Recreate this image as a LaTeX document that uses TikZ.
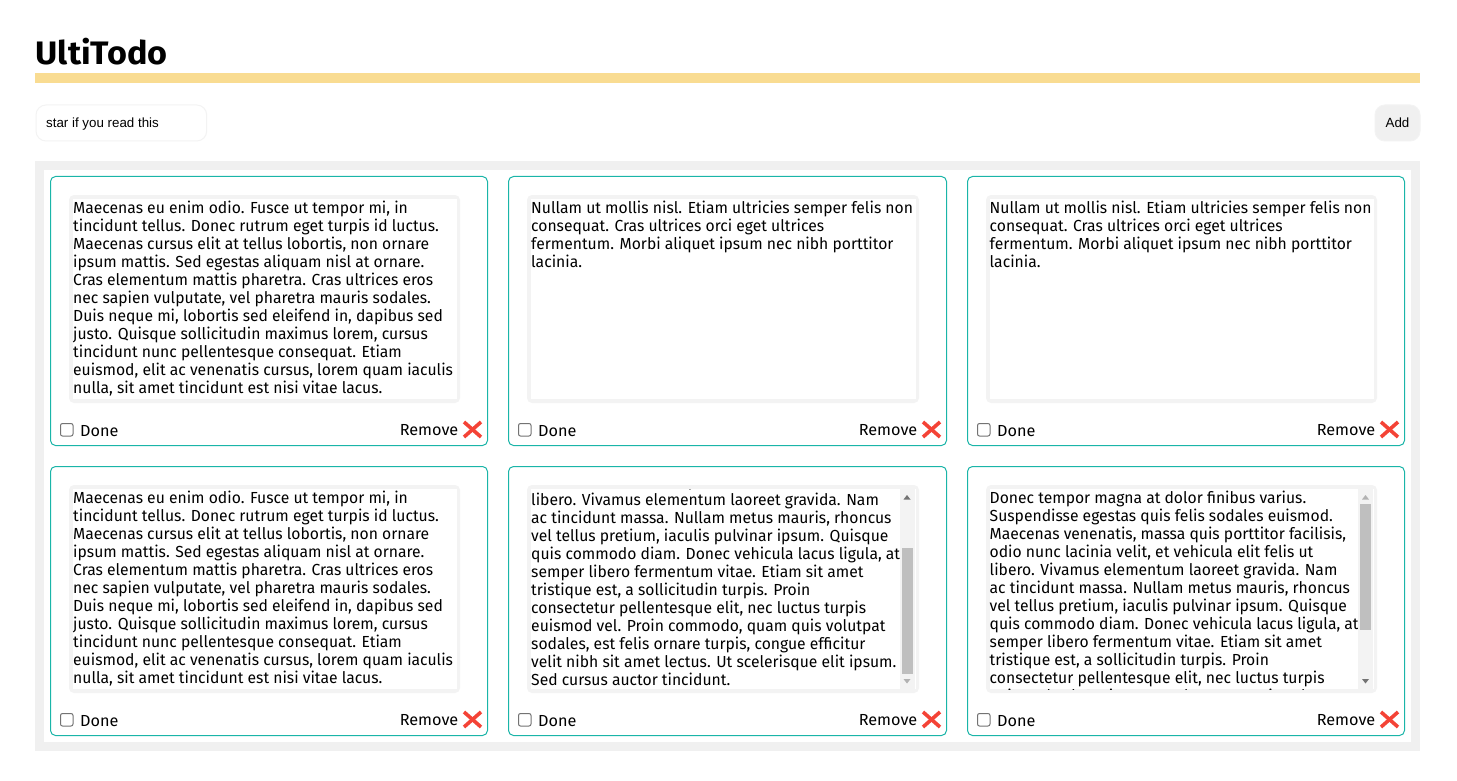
\documentclass[tikz,border=0pt]{standalone}
\usepackage{fontspec}
\setmainfont{Liberation Sans}
\newfontfamily\ub[FakeStretch=0.98]{Fira Sans}
\newfontfamily\ubl[FakeStretch=1.015]{Fira Sans}
\newfontfamily\ubt[FakeStretch=1.05,UprightFont=*-Bold]{Fira Sans}
\definecolor{teal1}{HTML}{1AB5A8}
\definecolor{gray1}{HTML}{F0F0F0}
\definecolor{gray2}{HTML}{F3F3F3}
\definecolor{thumb}{HTML}{BFBFBF}
\definecolor{yell}{HTML}{F9DC92}
\definecolor{redx}{HTML}{F44336}
\tikzset{
 cardbox/.style={draw=teal1,line width=1pt,rounded corners=5pt,fill=white},
 areabox/.style={fill=gray2,rounded corners=5pt},
 body/.style={anchor=north west,inner sep=0pt,align=left,font=\ub\fontsize{16}{18}\selectfont},
 label/.style={anchor=base west,inner sep=0pt,font=\ubl\fontsize{16}{18}\selectfont},
 ctl/.style={inner sep=0pt,font=\fontsize{13.33}{16}\selectfont},
 chk/.style={draw=black!55,line width=1pt,rounded corners=2pt,fill=white},
 xmark/.style={draw=redx,line width=3.6pt},
}
\newcommand{\fl}{\rule{0pt}{14pt}}
\newcommand{\tA}{\fl Maecenas eu enim odio. Fusce ut tempor mi, in\\tincidunt tellus. Donec rutrum eget turpis id luctus.\\Maecenas cursus elit at tellus lobortis, non ornare\\ipsum mattis. Sed egestas aliquam nisl at ornare.\\Cras elementum mattis pharetra. Cras ultrices eros\\nec sapien vulputate, vel pharetra mauris sodales.\\Duis neque mi, lobortis sed eleifend in, dapibus sed\\justo. Quisque sollicitudin maximus lorem, cursus\\tincidunt nunc pellentesque consequat. Etiam\\euismod, elit ac venenatis cursus, lorem quam iaculis\\nulla, sit amet tincidunt est nisi vitae lacus.}
\newcommand{\tB}{\fl Nullam ut mollis nisl. Etiam ultricies semper felis non\\consequat. Cras ultrices orci eget ultrices\\fermentum. Morbi aliquet ipsum nec nibh porttitor\\lacinia.}
\newcommand{\tC}{\fl odio nunc lacinia velit, et vehicula elit felis ut\\libero. Vivamus elementum laoreet gravida. Nam\\ac tincidunt massa. Nullam metus mauris, rhoncus\\vel tellus pretium, iaculis pulvinar ipsum. Quisque\\quis commodo diam. Donec vehicula lacus ligula, at\\semper libero fermentum vitae. Etiam sit amet\\tristique est, a sollicitudin turpis. Proin\\consectetur pellentesque elit, nec luctus turpis\\euismod vel. Proin commodo, quam quis volutpat\\sodales, est felis ornare turpis, congue efficitur\\velit nibh sit amet lectus. Ut scelerisque elit ipsum.\\Sed cursus auctor tincidunt.}
\newcommand{\tD}{\fl Donec tempor magna at dolor finibus varius.\\Suspendisse egestas quis felis sodales euismod.\\Maecenas venenatis, massa quis porttitor facilisis,\\odio nunc lacinia velit, et vehicula elit felis ut\\libero. Vivamus elementum laoreet gravida. Nam\\ac tincidunt massa. Nullam metus mauris, rhoncus\\vel tellus pretium, iaculis pulvinar ipsum. Quisque\\quis commodo diam. Donec vehicula lacus ligula, at\\semper libero fermentum vitae. Etiam sit amet\\tristique est, a sollicitudin turpis. Proin\\consectetur pellentesque elit, nec luctus turpis\\euismod vel. Proin commodo, quam quis volutpat}
% name, x1, x2, y1
\newcommand{\cardshell}[4]{%
 \pgfmathsetmacro{\xa}{#2+.5}\pgfmathsetmacro{\xb}{#3-.5}
 \pgfmathsetmacro{\ya}{#4+.5}\pgfmathsetmacro{\yb}{#4+269.5}
 \path[cardbox] (\xa,\ya) rectangle (\xb,\yb);
 \pgfmathsetmacro{\ta}{#2+19}\pgfmathsetmacro{\tb}{#3-28}
 \pgfmathsetmacro{\tc}{#4+19}\pgfmathsetmacro{\td}{#4+227}
 \path[areabox] (\ta,\tc) rectangle (\tb,\td);
 \pgfmathsetmacro{\ia}{#2+22.5}\pgfmathsetmacro{\ib}{#3-31.5}
 \pgfmathsetmacro{\ic}{#4+23}\pgfmathsetmacro{\id}{#4+223}
 \fill[white] (\ia,\ic) rectangle (\ib,\id);
 \pgfmathsetmacro{\ca}{#2+10.5}\pgfmathsetmacro{\cb}{#2+23}
 \pgfmathsetmacro{\cc}{#4+247.5}\pgfmathsetmacro{\cd}{#4+260}
 \path[chk] (\ca,\cc) rectangle (\cb,\cd);
 \pgfmathsetmacro{\dx}{#2+30}\pgfmathsetmacro{\dy}{#4+260}
 \node[label] (#1done) at (\dx,\dy) {Done};
 \pgfmathsetmacro{\rx}{#3-29.5}\pgfmathsetmacro{\ry}{#4+259}
 \node[label,anchor=base east] (#1rem) at (\rx,\ry) {Remove};
 \pgfmathsetmacro{\xl}{#3-24}\pgfmathsetmacro{\xr}{#3-7}
 \pgfmathsetmacro{\yt}{#4+246}\pgfmathsetmacro{\yu}{#4+261}
 \draw[xmark] (\xl,\yt) -- (\xr,\yu);
 \draw[xmark] (\xr,\yt) -- (\xl,\yu);
}
\begin{document}
\begin{tikzpicture}[x=1pt,y=-1pt]
\useasboundingbox (0,0) rectangle (1457,781);
\fill[white] (0,0) rectangle (1457,781);
\node[anchor=base west,inner sep=0pt,font=\ubt\fontsize{32.5}{36}\selectfont] (title) at (35.5,65) {UltiTodo};
\fill[yell] (35,73) rectangle (1420,83);
\node[draw=gray2,line width=1pt,rounded corners=10pt,minimum width=170.7pt,minimum height=36pt,anchor=north west,inner sep=0pt] (input) at (35.5,104.5) {};
\node[ctl,anchor=base west] (inputtext) at (46,127.3) {star if you read this};
\node[draw=gray2,fill=gray1,line width=1pt,rounded corners=10pt,minimum width=45pt,minimum height=36pt,anchor=north west,inner sep=0pt,ctl] (add) at (1374.5,104.5) {Add};
\fill[gray1] (35,161) rectangle (1420,751);
\fill[white] (44,170) rectangle (1411,742);

\cardshell{a}{50}{488}{176}
\node[body] (atext) at (73,199) {\tA};
\cardshell{b}{508}{947}{176}
\node[body] (btext) at (531,199) {\tB};
\cardshell{c}{967}{1405}{176}
\node[body] (ctext) at (989.5,199) {\tB};
\cardshell{d}{50}{488}{466}
\node[body] (dtext) at (73,489) {\tA};
\cardshell{e}{508}{947}{466}
\begin{scope}
\clip (530,489) rectangle (900,689);
\node[body] (etext) at (531,473) {\tC};
\end{scope}
\fill[gray2] (900,489) rectangle (915,689);
\fill[thumb] (902,548) rectangle (913,674);
\fill[black!55] (903.5,499.5) -- (910.5,499.5) -- (907,495) -- cycle;
\fill[black!30] (903.5,679) -- (910.5,679) -- (907,683.5) -- cycle;
\cardshell{f}{967}{1405}{466}
\begin{scope}
\clip (988,489) rectangle (1358,689);
\node[body] (ftext) at (989.5,489) {\tD};
\end{scope}
\fill[gray2] (1358,489) rectangle (1373,689);
\fill[thumb] (1360,504) rectangle (1371,630);
\fill[black!30] (1362,499.5) -- (1369,499.5) -- (1365.5,495) -- cycle;
\fill[black!55] (1362,679) -- (1369,679) -- (1365.5,683.5) -- cycle;
\end{tikzpicture}
\end{document}
